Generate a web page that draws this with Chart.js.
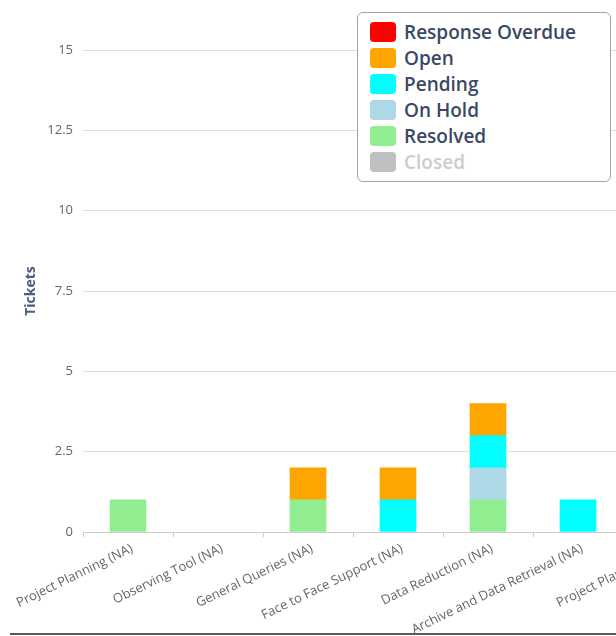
<!DOCTYPE html>
<html><head><meta charset="utf-8">
<script src="https://cdn.jsdelivr.net/npm/chart.js@4/dist/chart.umd.min.js"></script>
<style>
html,body{margin:0;padding:0;background:#fff;overflow:hidden;}
#wrap{position:relative;width:616px;height:636px;overflow:hidden;}
#cv{position:absolute;left:0;top:0;}
#legend{position:absolute;left:357px;top:12px;width:254px;height:170px;border:1.5px solid #a3a3a3;border-radius:6px;background:#fff;box-sizing:border-box;font-family:'Open Sans',sans-serif;}
.sw{position:absolute;left:12px;width:26px;height:20px;border-radius:4px;}
.lb{position:absolute;left:46px;height:20px;line-height:20px;font-size:19px;font-weight:600;color:#3b4864;white-space:nowrap;}
#base{position:absolute;left:10px;right:0;top:633px;height:2px;background:#5c5c5c;}
</style></head>
<body>
<div id="wrap">
<canvas id="cv" width="720" height="636"></canvas>
<div id="legend"></div>
<div id="base"></div>
</div>
<script>
const categories = ["Project Planning (NA)","Observing Tool (NA)","General Queries (NA)","Face to Face Support (NA)","Data Reduction (NA)","Archive and Data Retrieval (NA)","Project Planning (NA)"];
const responseOverdue = [0,0,0,0,0,0,0];
const open            = [0,0,1,1,1,0,0];
const pending         = [0,0,0,1,1,1,0];
const onHold          = [0,0,0,0,1,0,0];
const resolved        = [1,0,1,0,1,0,0];
const closed          = [0,0,0,0,0,0,0];
const legendNames  = ["Response Overdue","Open","Pending","On Hold","Resolved","Closed"];
const legendColors = ["#ff0000","#ffa500","#00ffff","#add8e6","#90ee90","#c0c0c0"];
const hiddenSeries = ["Closed"];
const yTicks = [0,2.5,5,7.5,10,12.5,15];

const seriesData = {"Response Overdue":responseOverdue,"Open":open,"Pending":pending,"On Hold":onHold,"Resolved":resolved,"Closed":closed};
// stacking order bottom -> top
const stackOrder = ["Closed","Resolved","On Hold","Pending","Open","Response Overdue"];
const datasets = stackOrder.map(n=>({
  label:n,
  data:seriesData[n].map(v=>v===0?null:v),
  backgroundColor:legendColors[legendNames.indexOf(n)],
  borderWidth:0,
  barThickness:36,
  hidden:hiddenSeries.includes(n)
}));

// HTML legend
const lg=document.getElementById('legend');
legendNames.forEach((n,i)=>{
  const top=8.5+i*26;
  const s=document.createElement('div');s.className='sw';s.style.top=top+'px';s.style.background=legendColors[i];lg.appendChild(s);
  const t=document.createElement('div');t.className='lb';t.style.top=top+'px';t.textContent=n;
  if(hiddenSeries.includes(n))t.style.color='#cccccc';
  lg.appendChild(t);
});

new Chart(document.getElementById('cv'),{
  type:'bar',
  data:{labels:categories,datasets:datasets},
  options:{
    responsive:false,animation:false,
    layout:{padding:{top:50,right:7,left:0,bottom:0}},
    plugins:{legend:{display:false},tooltip:{enabled:false}},
    scales:{
      x:{stacked:true,
        grid:{drawOnChartArea:false,drawTicks:true,tickLength:5,color:'#cccccc',offset:true},
        border:{display:true,color:'#cccccc'},
        ticks:{autoSkip:false,minRotation:26,maxRotation:26,padding:4,labelOffset:4,color:'#666666',font:{family:'Open Sans',size:13}},
        afterFit:s=>{s.height=104;}
      },
      y:{stacked:true,min:0,max:15,
        afterBuildTicks:s=>{s.ticks=yTicks.map(v=>({value:v}));},
        grid:{color:'#dddddd',drawTicks:false},
        border:{display:false},
        ticks:{padding:10,color:'#666666',font:{family:'Open Sans',size:13}},
        title:{display:true,text:'Tickets',color:'#4d5d7e',font:{family:'Open Sans',size:14,weight:'bold'},padding:{top:23,bottom:0}},
        afterFit:s=>{s.width=83;}
      }
    }
  }
});
</script>
</body></html>
